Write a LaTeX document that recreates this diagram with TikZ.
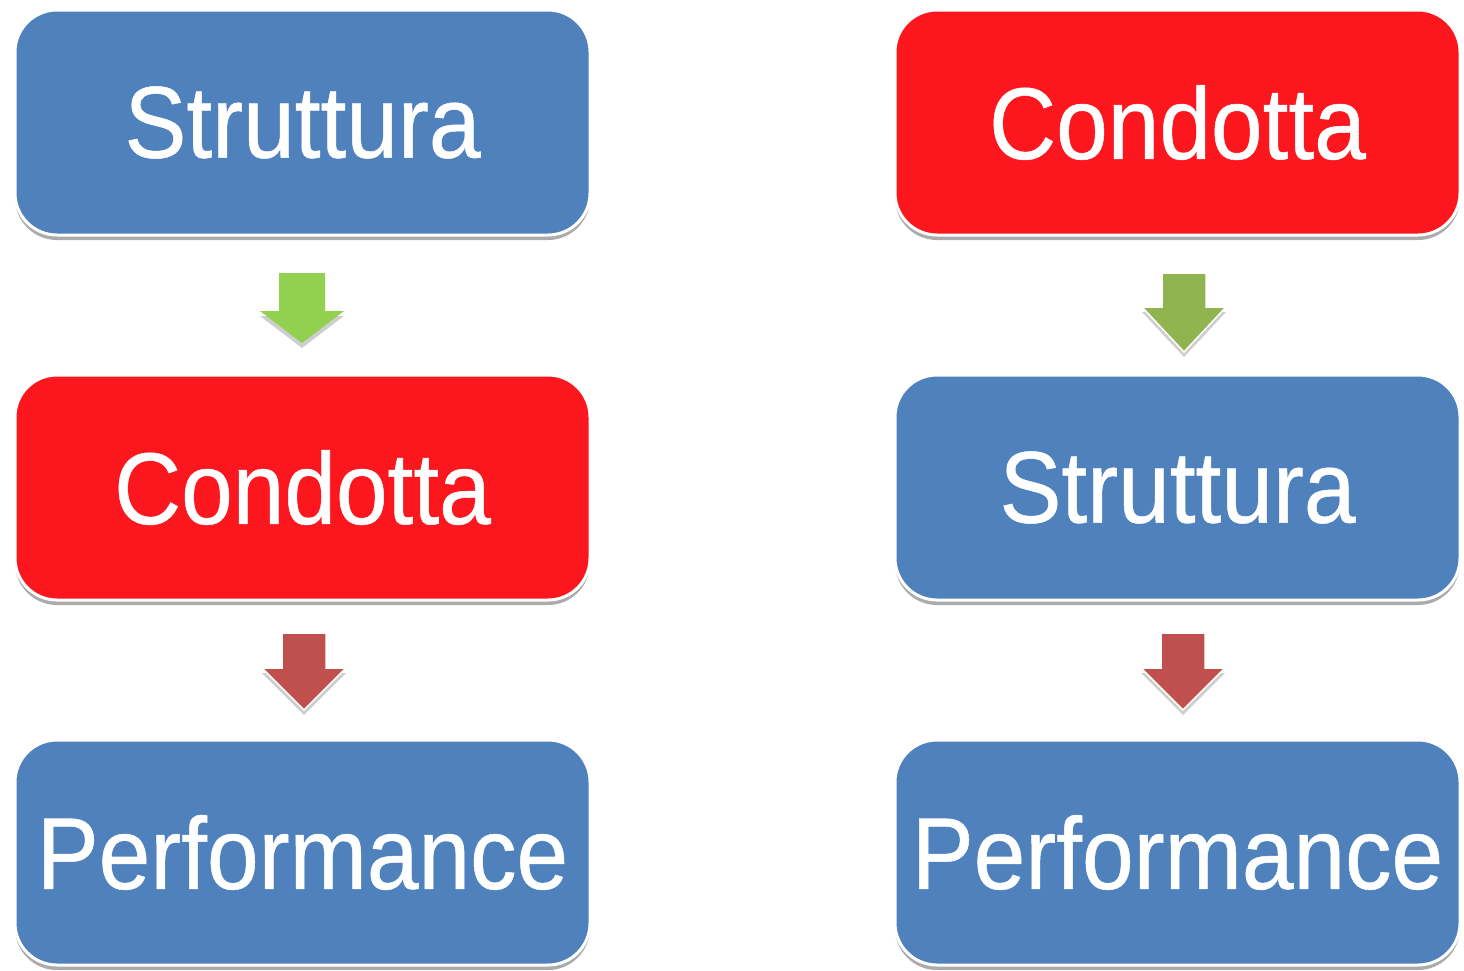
\documentclass[tikz,border=0pt]{standalone}
\usepackage{fontspec}
\newfontfamily\boxfont[FakeStretch=0.91,FakeBold=0.5]{Liberation Sans}
\usetikzlibrary{shadows}
\definecolor{boxblue}{RGB}{79,129,189}
\definecolor{boxred}{RGB}{252,22,30}
\definecolor{arrgreenA}{RGB}{146,208,80}
\definecolor{arrgreenB}{RGB}{143,180,80}
\definecolor{arrred}{RGB}{192,80,77}
\tikzset{
  x=1pt, y=-1pt,
  boxbase/.style={rounded corners=42pt, draw=white, line width=3pt,
    minimum height=225pt, text=white,
    font=\boxfont\fontsize{102}{110}\selectfont,
    drop shadow={shadow xshift=0pt, shadow yshift=-5pt, opacity=0.6, fill=black!55}},
  leftbox/.style={boxbase, minimum width=575pt},
  rightbox/.style={boxbase, minimum width=565pt},
  bluebox/.style={fill=boxblue},
  redbox/.style={fill=boxred},
  blockarrow/.style={line width=1.5pt, line join=miter},
  pics/downarr/.style n args={4}{code={
    \fill[black!55, opacity=0.35] (-#1,5) -- (#1,5) -- (#1,#3+5) -- (#2,#3+5) -- (0,#4+5)
      -- (-#2,#3+5) -- (-#1,#3+5) -- cycle;
    \path[pic actions] (-#1,0) -- (#1,0) -- (#1,#3) -- (#2,#3) -- (0,#4)
      -- (-#2,#3) -- (-#1,#3) -- cycle;}}
}
\begin{document}
\begin{tikzpicture}
\useasboundingbox[fill=white] (0,0) rectangle (1464,970);
% left column
\node[leftbox,bluebox] (ls) at (302.5,122.5) {Struttura};
\node[leftbox,redbox]  (lc) at (302.5,487.5) {Condotta};
\node[leftbox,bluebox] (lp) at (302.5,852.5) {Performance};
% right column
\node[rightbox,redbox]  (rc) at (1177.5,122.5) {Condotta};
\node[rightbox,bluebox] (rs) at (1177.5,487.5) {Struttura};
\node[rightbox,bluebox] (rp) at (1177.5,852.5) {Performance};
% arrows
\coordinate (a1) at (302,273);
\coordinate (a2) at (304,633);
\coordinate (a3) at (1184,273);
\coordinate (a4) at (1183,633);
\pic[fill=arrgreenA, draw=none] at (a1) {downarr={23}{42}{38}{70}};
\pic[fill=arrred, draw=white, blockarrow] at (a2) {downarr={22}{42}{35}{77}};
\pic[fill=arrgreenB, draw=white, blockarrow] at (a3) {downarr={22}{42}{34}{79}};
\pic[fill=arrred, draw=white, blockarrow] at (a4) {downarr={22}{42}{35}{77}};
\end{tikzpicture}
\end{document}
